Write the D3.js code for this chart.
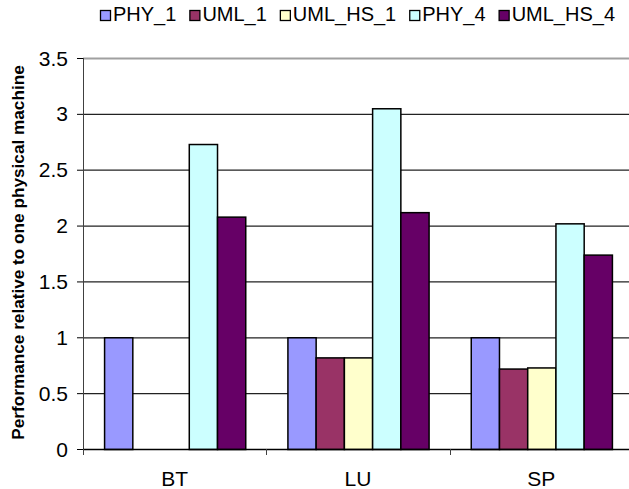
<!DOCTYPE html>
<html>
<head>
<meta charset="utf-8">
<script src="https://cdn.jsdelivr.net/npm/d3@7"></script>
<style>
  body { margin: 0; background: #fff; }
  svg { display: block; font-family: "Liberation Sans", Arial, sans-serif; }
</style>
</head>
<body>
<svg id="chart" width="629" height="489"></svg>
<script>
const categories = ["BT", "LU", "SP"];
const seriesNames = ["PHY_1", "UML_1", "UML_HS_1", "PHY_4", "UML_HS_4"];
const seriesColors = ["#9999ff", "#993366", "#ffffcc", "#ccffff", "#660066"];
const phy1 = [1, 1, 1];
const uml1 = [0, 0.82, 0.72];
const umlHs1 = [0, 0.82, 0.73];
const phy4 = [2.73, 3.05, 2.02];
const umlHs4 = [2.08, 2.12, 1.74];
const yTicks = [0, 0.5, 1, 1.5, 2, 2.5, 3, 3.5];

const seriesValues = [phy1, uml1, umlHs1, phy4, umlHs4];
const rows = categories.map((c, i) => ({
  cat: c,
  values: seriesNames.map((s, j) => ({ key: s, value: seriesValues[j][i] }))
}));

const svg = d3.select("#chart");
const plotLeft = 83, plotRight = 633, plotTop = 58, plotBottom = 449;

const x0 = d3.scaleBand().domain(categories).range([plotLeft, plotRight])
  .paddingInner(0.23).paddingOuter(0.115);
const x1 = d3.scaleBand().domain(seriesNames).range([0, x0.bandwidth()]);
const y = d3.scaleLinear().domain([0, 3.5]).range([plotBottom, plotTop]);
const color = d3.scaleOrdinal().domain(seriesNames).range(seriesColors);

// gridlines
svg.append("g")
  .selectAll("line")
  .data(yTicks.filter(t => t > 0))
  .join("line")
  .attr("x1", plotLeft).attr("x2", plotRight)
  .attr("y1", d => y(d) + 0.5).attr("y2", d => y(d) + 0.5)
  .attr("stroke", d => d === 3.5 ? "#a0a0a0" : "#222")
  .attr("stroke-width", d => d === 3.5 ? 2 : 1.2);

// bars
svg.append("g")
  .selectAll("g")
  .data(rows)
  .join("g")
  .attr("transform", d => `translate(${x0(d.cat)},0)`)
  .selectAll("rect")
  .data(d => d.values.filter(v => v.value > 0))
  .join("rect")
  .attr("x", d => x1(d.key) + 0.5)
  .attr("y", d => y(d.value) + 0.5)
  .attr("width", x1.bandwidth())
  .attr("height", d => y(0) - y(d.value))
  .attr("fill", d => color(d.key))
  .attr("stroke", "#000")
  .attr("stroke-width", 1.5);

// y axis
const yAxis = svg.append("g");
yAxis.append("line")
  .attr("x1", plotLeft + 0.5).attr("x2", plotLeft + 0.5)
  .attr("y1", plotTop).attr("y2", plotBottom + 1)
  .attr("stroke", "#404040");
yAxis.selectAll("line.tick")
  .data(yTicks)
  .join("line")
  .attr("class", "tick")
  .attr("x1", plotLeft - 6).attr("x2", plotLeft)
  .attr("y1", d => y(d) + 0.5).attr("y2", d => y(d) + 0.5)
  .attr("stroke", "#000");
yAxis.selectAll("text")
  .data(yTicks)
  .join("text")
  .attr("x", plotLeft - 15)
  .attr("y", d => y(d))
  .attr("dy", "0.36em")
  .attr("text-anchor", "end")
  .attr("font-size", 21)
  .text(d => d);

// x axis
const xAxis = svg.append("g");
xAxis.append("line")
  .attr("x1", plotLeft).attr("x2", plotRight)
  .attr("y1", plotBottom + 0.5).attr("y2", plotBottom + 0.5)
  .attr("stroke", "#000")
  .attr("stroke-width", 1.5);
const boundaries = categories.map(c => x0(c) - x0.step() * x0.paddingInner() / 2)
  .concat([plotRight]);
xAxis.selectAll("line.tick")
  .data(boundaries)
  .join("line")
  .attr("class", "tick")
  .attr("x1", d => Math.round(d) + 0.5).attr("x2", d => Math.round(d) + 0.5)
  .attr("y1", plotBottom).attr("y2", plotBottom + 6)
  .attr("stroke", "#404040");
xAxis.selectAll("text")
  .data(categories)
  .join("text")
  .attr("x", d => x0(d) + x0.bandwidth() / 2)
  .attr("y", 486)
  .attr("text-anchor", "middle")
  .attr("font-size", 21)
  .text(d => d);

// y title
svg.append("text")
  .attr("transform", `translate(24,252.5) rotate(-90)`)
  .attr("text-anchor", "middle")
  .attr("font-size", 17.2)
  .attr("font-weight", "bold")
  .text("Performance relative to one physical machine");

// legend
const legend = svg.append("g").attr("transform", "translate(100,0)");
let lx = 0;
seriesNames.forEach((s, i) => {
  const item = legend.append("g").attr("transform", `translate(${lx},0)`);
  item.append("rect")
    .attr("x", 0.5).attr("y", 10.5)
    .attr("width", 10).attr("height", 10)
    .attr("fill", seriesColors[i])
    .attr("stroke", "#000")
    .attr("stroke-width", 1.3);
  const t = item.append("text")
    .attr("x", 13).attr("y", 21)
    .attr("font-size", 20)
    .text(s);
  lx += 13 + t.node().getComputedTextLength() + 13;
});
</script>
</body>
</html>
